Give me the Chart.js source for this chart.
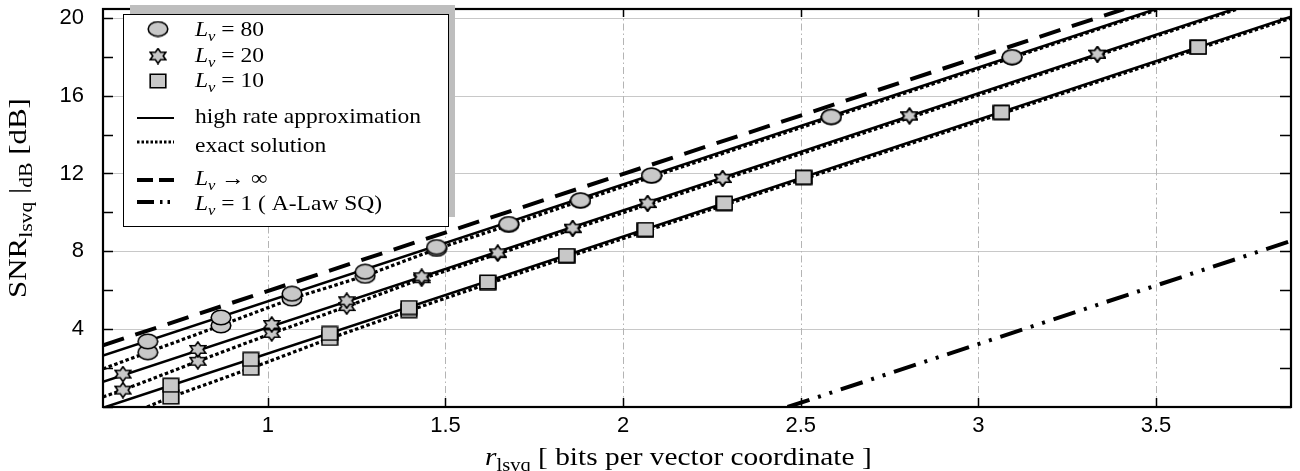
<!DOCTYPE html>
<html>
<head>
<meta charset="utf-8">
<script src="https://cdn.jsdelivr.net/npm/chart.js@4.4.1/dist/chart.umd.min.js"></script>
<style>
  html, body { margin: 0; padding: 0; background: #fff; overflow: hidden; }
  canvas { display: block; }
</style>
</head>
<body>
<canvas id="myChart" width="1300" height="471"></canvas>
<script>
// axis ticks and ranges
const xTicks = [1, 1.5, 2, 2.5, 3, 3.5];
const yTicks = [0, 2, 4, 6, 8, 10, 12, 14, 16, 18, 20];
const yLabelTicks = [4, 8, 12, 16, 20];
const xRange = [0.536, 3.88];
const yRange = [0, 20.45];

// L_v = 80 (circles)
const rate80 = [0.662, 0.868, 1.068, 1.274, 1.475, 1.678, 1.880, 2.080, 2.586, 3.095];
const approx80 = [3.37, 4.60, 5.82, 6.95, 8.22, 9.40, 10.62, 11.90, 14.91, 17.98];
const exact80 = [2.81, 4.19, 5.57, 6.74, 8.12, 9.36, 10.60, 11.88, 14.90, 17.97];

// L_v = 20 (stars)
const rate20 = [0.592, 0.803, 1.011, 1.222, 1.433, 1.647, 1.858, 2.069, 2.280, 2.806, 3.335];
const approx20 = [1.69, 2.96, 4.24, 5.46, 6.69, 7.92, 9.19, 10.47, 11.75, 14.96, 18.13];
const exact20 = [0.87, 2.35, 3.78, 5.16, 6.59, 7.88, 9.16, 10.45, 11.74, 14.95, 18.12];

// L_v = 10 (squares)
const rate10 = [0.727, 0.952, 1.174, 1.397, 1.619, 1.841, 2.063, 2.285, 2.508, 3.065, 3.619];
const approx10 = [1.12, 2.45, 3.78, 5.11, 6.42, 7.78, 9.12, 10.47, 11.80, 15.14, 18.49];
const exact10 = [0.51, 1.99, 3.52, 4.95, 6.35, 7.74, 9.08, 10.45, 11.79, 15.13, 18.48];

// curves (high rate approximation = solid, exact solution = dotted)
const approxLine80X = [0.536, 3.50];
const approxLine80Y = [2.64, 20.45];
const approxLine20X = [0.536, 3.72];
const approxLine20Y = [1.30, 20.45];
const approxLine10X = [0.543, 3.88];
const approxLine10Y = [0, 20.05];

const exactLine80X = [0.536, 0.662, 0.868, 1.068, 1.274, 1.475, 1.678, 2.080, 3.51];
const exactLine80Y = [1.96, 2.81, 4.19, 5.57, 6.74, 8.12, 9.34, 11.82, 20.45];
const exactLine20X = [0.536, 0.592, 0.803, 1.011, 1.222, 1.433, 1.647, 2.069, 3.73];
const exactLine20Y = [0.52, 0.87, 2.35, 3.78, 5.16, 6.59, 7.86, 10.40, 20.45];
const exactLine10X = [0.660, 0.727, 0.952, 1.174, 1.397, 1.619, 2.063, 3.88];
const exactLine10Y = [0, 0.51, 1.99, 3.52, 4.95, 6.33, 9.04, 19.98];

// L_v -> infinity (dashed) and L_v = 1 A-law SQ (dash-dot-dot)
const infLineX = [0.536, 3.41];
const infLineY = [3.17, 20.45];
const alawLineX = [2.463, 3.88];
const alawLineY = [0, 8.53];

const SERIF = '"Liberation Serif", "DejaVu Serif", serif';
const markerFill = '#c8c8c8';

function pts(xs, ys) { return xs.map((v, i) => ({ x: v, y: ys[i] })); }

function markerCanvas(w, h, draw) {
  const c = document.createElement('canvas');
  c.width = w; c.height = h;
  const g = c.getContext('2d');
  g.fillStyle = markerFill;
  g.strokeStyle = '#000';
  g.lineWidth = 1.6;
  draw(g, w, h);
  return c;
}

const circleImg = markerCanvas(22, 17, (g, w, h) => {
  g.beginPath();
  g.ellipse(w / 2, h / 2, w / 2 - 1.2, h / 2 - 1.2, 0, 0, Math.PI * 2);
  g.fill(); g.stroke();
});
const squareImg = markerCanvas(18, 16, (g, w, h) => {
  g.beginPath();
  g.rect(1.2, 1.2, w - 2.4, h - 2.4);
  g.fill(); g.stroke();
});
const starImg = markerCanvas(18, 17, (g, w, h) => {
  g.beginPath();
  const R = h / 2 - 1, r = R / Math.sqrt(3), sx = 1.2;
  for (let k = 0; k < 12; k++) {
    const a = -Math.PI / 2 + k * Math.PI / 6;
    const rad = k % 2 === 0 ? R : r;
    const px = w / 2 + Math.cos(a) * rad * sx, py = h / 2 + Math.sin(a) * rad;
    k === 0 ? g.moveTo(px, py) : g.lineTo(px, py);
  }
  g.closePath();
  g.fill(); g.stroke();
});

function markerSet(label, xs, ys, img) {
  return { label, data: pts(xs, ys), showLine: false, pointStyle: img, pointRadius: 8,
    backgroundColor: markerFill, borderColor: '#000' };
}
function lineSet(label, xs, ys, width, dash) {
  return { label, data: pts(xs, ys), showLine: true, pointRadius: 0, borderColor: '#000',
    borderWidth: width, borderDash: dash, tension: 0, fill: false };
}

const solidDash = [];
const dottedDash = [3.5, 2.5];
const dashedDash = [22, 12];
const alawDash = [23, 9, 3, 9, 3, 9];

const datasets = [
  markerSet('L80 approx', rate80, approx80, circleImg),
  markerSet('L80 exact', rate80, exact80, circleImg),
  markerSet('L20 approx', rate20, approx20, starImg),
  markerSet('L20 exact', rate20, exact20, starImg),
  markerSet('L10 approx', rate10, approx10, squareImg),
  markerSet('L10 exact', rate10, exact10, squareImg),
  lineSet('L80 high rate', approxLine80X, approxLine80Y, 2.5, solidDash),
  lineSet('L20 high rate', approxLine20X, approxLine20Y, 2.5, solidDash),
  lineSet('L10 high rate', approxLine10X, approxLine10Y, 2.5, solidDash),
  lineSet('L80 exact', exactLine80X, exactLine80Y, 3.2, dottedDash),
  lineSet('L20 exact', exactLine20X, exactLine20Y, 3.2, dottedDash),
  lineSet('L10 exact', exactLine10X, exactLine10Y, 3.2, dottedDash),
  lineSet('L inf', infLineX, infLineY, 4, dashedDash),
  lineSet('A-law', alawLineX, alawLineY, 4, alawDash)
];

// rich text with italic parts and subscripts
function drawRich(ctx, parts, size) {
  let x = 0;
  parts.forEach(p => {
    const s = p.sub ? size * 0.7 : size;
    ctx.font = (p.it ? 'italic ' : '') + s + 'px ' + SERIF;
    ctx.fillText(p.t, x, p.sub ? size * 0.24 : 0);
    x += ctx.measureText(p.t).width;
  });
  return x;
}
function richAt(ctx, parts, size, x, y, stretch, rot) {
  ctx.save();
  ctx.translate(x, y);
  if (rot) ctx.rotate(rot);
  ctx.scale(stretch, 1);
  ctx.fillStyle = '#000';
  ctx.textBaseline = 'alphabetic';
  ctx.textAlign = 'left';
  drawRich(ctx, parts, size);
  ctx.restore();
}

const legendRows = [
  { img: circleImg, y: 29, base: 36, parts: [{ t: 'L', it: 1 }, { t: 'v', it: 1, sub: 1 }, { t: ' = 80' }] },
  { img: starImg, y: 56, base: 62, parts: [{ t: 'L', it: 1 }, { t: 'v', it: 1, sub: 1 }, { t: ' = 20' }] },
  { img: squareImg, y: 81, base: 87, parts: [{ t: 'L', it: 1 }, { t: 'v', it: 1, sub: 1 }, { t: ' = 10' }] },
  { dash: [], w: 2.2, y: 118, base: 123, parts: [{ t: 'high rate approximation' }] },
  { dash: [2.5, 2], w: 3, y: 142, base: 152, parts: [{ t: 'exact solution' }] },
  { dash: [16, 6], w: 4, y: 180, base: 185, parts: [{ t: 'L', it: 1 }, { t: 'v', it: 1, sub: 1 }, { t: ' \u2192 \u221E' }] },
  { dash: [17, 6, 2.5, 5, 2.5, 6], w: 4, y: 202, base: 210, parts: [{ t: 'L', it: 1 }, { t: 'v', it: 1, sub: 1 }, { t: ' = 1 ( A-Law SQ)' }] }
];

const decorPlugin = {
  id: 'decor',
  beforeDatasetsDraw(chart) {
    const { ctx, chartArea: a, scales: { x, y } } = chart;
    ctx.save();
    ctx.lineWidth = 1;
    ctx.strokeStyle = '#c8c8c8';
    yLabelTicks.forEach(v => {
      const py = Math.round(y.getPixelForValue(v)) + 0.5;
      ctx.beginPath(); ctx.moveTo(a.left, py); ctx.lineTo(a.right, py); ctx.stroke();
    });
    ctx.strokeStyle = '#b4b4b4';
    ctx.setLineDash([7, 3, 1.5, 3]);
    xTicks.forEach(v => {
      const px = Math.round(x.getPixelForValue(v)) + 0.5;
      ctx.beginPath(); ctx.moveTo(px, a.top); ctx.lineTo(px, a.bottom); ctx.stroke();
    });
    ctx.restore();
  },
  afterDatasetsDraw(chart) {
    const { ctx, chartArea: a, scales: { x, y } } = chart;
    ctx.save();
    // inward ticks
    ctx.strokeStyle = '#000';
    ctx.lineWidth = 1.5;
    xTicks.forEach(v => {
      const px = Math.round(x.getPixelForValue(v)) + 0.5;
      ctx.beginPath();
      ctx.moveTo(px, a.bottom); ctx.lineTo(px, a.bottom - 9);
      ctx.moveTo(px, a.top); ctx.lineTo(px, a.top + 8);
      ctx.stroke();
    });
    yTicks.forEach(v => {
      const py = Math.round(y.getPixelForValue(v)) + 0.5;
      ctx.beginPath();
      ctx.moveTo(a.left, py); ctx.lineTo(a.left + 10, py);
      ctx.moveTo(a.right, py); ctx.lineTo(a.right - 11, py);
      ctx.stroke();
    });
    // frame
    ctx.lineWidth = 2.2;
    ctx.strokeRect(a.left, a.top, a.right - a.left, a.bottom - a.top);

    // legend with shadow
    const bx = a.left + 20, by = a.top + 5, bw = 325, bh = 212;
    ctx.fillStyle = '#bebebe';
    ctx.fillRect(bx + 7, by - 9, bw, bh);
    ctx.fillStyle = '#fff';
    ctx.fillRect(bx, by, bw, bh);
    ctx.strokeStyle = '#000';
    ctx.lineWidth = 1;
    ctx.strokeRect(bx + 0.5, by + 0.5, bw, bh);
    legendRows.forEach(r => {
      if (r.img) {
        ctx.drawImage(r.img, bx + 35 - r.img.width / 2, r.y - r.img.height / 2);
      } else {
        ctx.save();
        ctx.lineWidth = r.w;
        ctx.setLineDash(r.dash);
        ctx.beginPath(); ctx.moveTo(bx + 14, r.y); ctx.lineTo(bx + 51, r.y); ctx.stroke();
        ctx.restore();
      }
      richAt(ctx, r.parts, 21, bx + 72, r.base, 1.12, 0);
    });
    ctx.restore();
  },
  afterDraw(chart) {
    const { ctx } = chart;
    // axis titles
    richAt(ctx, [{ t: 'r', it: 1 }, { t: 'lsvq', sub: 1 }, { t: ' [ bits per vector coordinate ]' }],
      26, 485, 465, 1.13, 0);
    richAt(ctx, [{ t: 'SNR' }, { t: 'lsvq', sub: 1 }, { t: ' |' }, { t: 'dB', sub: 1 }, { t: ' [dB]' }],
      26, 26, 298, 1.19, -Math.PI / 2);
  }
};

new Chart('myChart', {
  type: 'scatter',
  data: { datasets },
  options: {
    responsive: false,
    animation: false,
    devicePixelRatio: 1,
    layout: { padding: { left: 0, right: 8, top: 7, bottom: 0 } },
    plugins: { legend: { display: false }, tooltip: { enabled: false } },
    scales: {
      x: {
        type: 'linear',
        min: xRange[0],
        max: xRange[1],
        grid: { display: false, drawTicks: false },
        border: { display: false },
        ticks: {
          autoSkip: false,
          padding: 6,
          color: '#000',
          font: { family: '"Liberation Sans", Arial, sans-serif', size: 22 },
          callback: v => String(v)
        },
        afterBuildTicks: s => { s.ticks = xTicks.map(v => ({ value: v })); },
        afterFit: s => { s.height = 64; s.paddingLeft = 0; s.paddingRight = 0; }
      },
      y: {
        type: 'linear',
        min: yRange[0],
        max: yRange[1],
        grid: { display: false, drawTicks: false },
        border: { display: false },
        ticks: {
          autoSkip: false,
          padding: 19,
          color: '#000',
          font: { family: '"Liberation Sans", Arial, sans-serif', size: 22 },
          callback: v => yLabelTicks.includes(v) ? String(v) : ''
        },
        afterBuildTicks: s => { s.ticks = yTicks.map(v => ({ value: v })); },
        afterFit: s => { s.width = 103; s.paddingTop = 0; s.paddingBottom = 0; }
      }
    }
  },
  plugins: [decorPlugin]
});
</script>
</body>
</html>
